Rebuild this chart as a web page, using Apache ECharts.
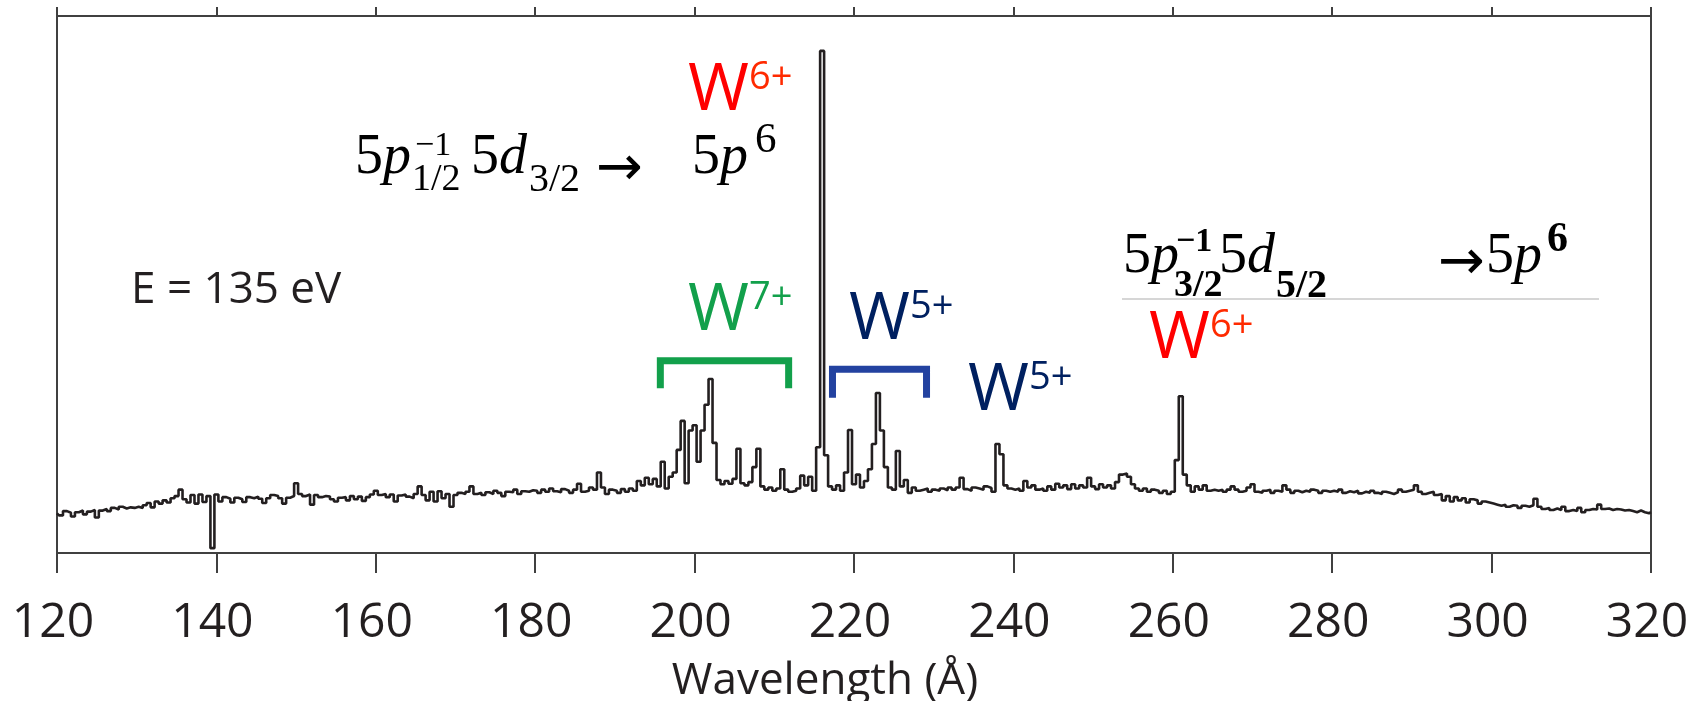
<!DOCTYPE html>
<html>
<head>
<meta charset="utf-8">
<script src="https://cdn.jsdelivr.net/npm/echarts@6/dist/echarts.min.js"></script>
<style>
  html, body { margin: 0; padding: 0; background: #fff; }
  #chart { width: 1688px; height: 701px; }
</style>
</head>
<body>
<div id="chart"></div>
<script>
// spectrum, 0.5 A bins from 120 A (intensity in arbitrary units, 0..100)
const binStart = 120;
const binWidth = 0.5;
const counts120 = [7.4, 7.0, 7.8, 7.5, 6.8, 7.6, 7.9, 7.2, 7.7, 8.0, 6.6, 7.9, 8.2, 7.8, 8.4, 8.1, 8.6, 8.3, 8.5, 8.4];
const counts130 = [8.6, 8.4, 8.9, 9.3, 8.5, 9.6, 9.2, 9.8, 9.4, 10.2, 10.6, 11.8, 10.0, 9.4, 10.8, 9.2, 10.9, 9.5, 10.6, 0.9];
const counts140 = [10.9, 9.6, 10.4, 10.1, 9.4, 10.3, 10.0, 9.5, 10.4, 10.2, 10.5, 10.1, 9.3, 10.2, 10.8, 10.6, 10.2, 9.2, 10.3, 10.6];
const counts150 = [13.0, 11.0, 10.6, 10.9, 9.0, 10.8, 10.4, 10.6, 10.5, 10.0, 9.6, 10.3, 10.4, 9.8, 10.6, 10.0, 10.5, 9.7, 10.4, 10.9];
const counts160 = [11.6, 10.8, 11.0, 10.4, 10.9, 9.6, 10.7, 10.9, 10.5, 10.2, 11.0, 12.4, 10.8, 9.8, 11.4, 9.6, 11.5, 10.2, 11.0, 8.6];
const counts170 = [10.8, 11.2, 11.0, 11.4, 12.4, 11.0, 11.2, 10.8, 11.3, 11.0, 11.6, 11.2, 10.6, 11.4, 11.3, 11.8, 11.0, 11.5, 11.4, 11.7];
const counts180 = [11.6, 11.2, 11.8, 11.4, 12.0, 11.5, 11.3, 11.9, 11.6, 11.2, 11.8, 12.9, 11.4, 11.6, 12.2, 11.8, 15.0, 12.2, 11.0, 11.8];
const counts190 = [11.6, 11.2, 11.9, 11.4, 12.0, 11.6, 13.4, 12.6, 14.0, 12.8, 13.8, 12.4, 17.0, 12.0, 14.2, 15.0, 19.2, 24.6, 13.0, 22.8];
const counts200 = [23.8, 17.0, 22.8, 27.6, 32.4, 20.5, 13.6, 12.8, 13.4, 12.9, 13.8, 19.4, 13.0, 12.6, 13.2, 16.0, 19.4, 12.4, 11.8, 12.2];
const counts210 = [11.6, 12.0, 15.6, 11.8, 11.4, 11.6, 12.0, 14.4, 12.6, 14.2, 11.6, 19.7, 93.5, 18.2, 12.4, 11.8, 12.6, 11.6, 15.0, 22.9];
const counts220 = [12.8, 14.6, 12.2, 13.4, 15.6, 20.3, 29.8, 22.8, 16.0, 12.2, 11.8, 19.0, 12.4, 13.6, 11.2, 12.2, 11.6, 11.8, 12.0, 11.4];
const counts230 = [11.8, 11.6, 12.0, 11.7, 12.2, 11.8, 12.2, 14.0, 11.9, 11.6, 12.2, 12.0, 11.8, 12.4, 12.1, 11.4, 20.3, 18.4, 12.6, 12.0];
const counts240 = [11.8, 12.0, 11.6, 13.4, 12.2, 12.6, 11.8, 12.0, 11.6, 12.4, 11.8, 12.9, 12.2, 12.6, 11.9, 12.8, 12.0, 12.6, 12.2, 14.0];
const counts250 = [12.4, 11.9, 12.8, 12.2, 12.6, 12.0, 13.2, 14.6, 14.8, 14.2, 12.8, 12.0, 11.6, 12.0, 11.4, 11.8, 11.6, 11.2, 11.6, 11.0];
const counts260 = [11.4, 17.3, 29.2, 14.6, 12.6, 11.4, 12.4, 11.8, 12.6, 11.6, 11.8, 11.6, 11.8, 11.4, 11.8, 12.4, 11.8, 11.4, 11.6, 12.2];
const counts270 = [12.8, 11.4, 11.2, 11.6, 11.8, 11.2, 11.6, 11.4, 12.6, 11.8, 11.2, 11.6, 11.3, 11.6, 11.4, 11.8, 11.6, 11.2, 11.6, 11.4];
const counts280 = [11.6, 11.4, 11.8, 11.2, 11.5, 11.3, 11.6, 11.1, 11.4, 11.2, 11.6, 11.2, 11.0, 11.4, 11.2, 11.0, 11.3, 11.8, 11.4, 11.6];
const counts290 = [11.8, 12.6, 11.4, 11.0, 11.2, 11.4, 10.8, 11.0, 9.8, 10.6, 9.6, 10.4, 9.8, 10.2, 9.4, 10.0, 9.8, 9.2, 9.6, 9.4];
const counts300 = [9.2, 9.0, 8.8, 9.0, 8.6, 8.9, 8.8, 8.4, 8.8, 8.6, 8.9, 10.1, 8.6, 8.2, 8.4, 8.0, 8.3, 8.0, 8.6, 7.8];
const counts310 = [8.0, 7.8, 8.4, 7.6, 8.0, 8.2, 8.1, 9.0, 8.2, 8.3, 8.0, 8.2, 8.1, 7.9, 8.0, 7.8, 7.6, 7.9, 7.6, 7.4, 7.6];

const xTicks = [120, 140, 160, 180, 200, 220, 240, 260, 280, 300, 320];

// brackets over line groups: [from A, to A, top, leg bottom]
const bracketW7 = [195.7, 211.8, 35.8, 30.7];
const bracketW5 = [217.3, 229.1, 34.2, 28.9];

const counts = [].concat(counts120, counts130, counts140, counts150, counts160, counts170,
  counts180, counts190, counts200, counts210, counts220, counts230, counts240, counts250,
  counts260, counts270, counts280, counts290, counts300, counts310);
const spectrum = counts.map(function (v, i) { return [binStart + i * binWidth, v]; });

const INK = '#231f20';
const SANS = '"Open Sans", "Noto Sans", sans-serif';
const SERIF = '"Liberation Serif", "DejaVu Serif", serif';
const ARROW = '"DejaVu Sans", sans-serif';
const AXIS = { color: '#404040', width: 2 };

let chart = echarts.init(document.getElementById('chart'));
chart.setOption({
  animation: false,
  backgroundColor: '#fff',
  grid: { left: 57, right: 37, top: 16, bottom: 148, outerBoundsMode: 'none', containLabel: false },
  xAxis: [
    {
      type: 'value', position: 'bottom', min: xTicks[0], max: xTicks[xTicks.length - 1], interval: 20,
      axisLine: { onZero: false, lineStyle: AXIS },
      axisTick: { length: 20, lineStyle: AXIS },
      axisLabel: { fontSize: 48, fontFamily: SANS, color: INK, margin: 46, padding: [0, 8, 0, 0] },
      splitLine: { show: false },
      name: 'Wavelength (Å)', nameLocation: 'middle', nameGap: 106,
      nameTextStyle: { fontSize: 44, fontFamily: SANS, color: INK, padding: [0, 58, 0, 0] }
    },
    {
      type: 'value', position: 'top', min: xTicks[0], max: xTicks[xTicks.length - 1], interval: 20,
      axisLine: { onZero: false, lineStyle: AXIS },
      axisTick: { length: 9, lineStyle: AXIS },
      axisLabel: { show: false },
      splitLine: { show: false }
    }
  ],
  yAxis: [
    {
      type: 'value', position: 'left', min: 0, max: 100,
      axisLine: { show: true, onZero: false, lineStyle: AXIS },
      axisTick: { show: false }, axisLabel: { show: false }, splitLine: { show: false }
    },
    {
      type: 'value', position: 'right', min: 0, max: 100,
      axisLine: { show: true, onZero: false, lineStyle: AXIS },
      axisTick: { show: false }, axisLabel: { show: false }, splitLine: { show: false }
    }
  ],
  series: [
    {
      type: 'line', step: 'middle', data: spectrum, showSymbol: false,
      lineStyle: { color: INK, width: 2.6 }, z: 3
    }
  ]
});

function px (x, y) {
  return chart.convertToPixel({ xAxisIndex: 0, yAxisIndex: 0 }, [x, y]);
}

function bracket (b, color) {
  let p1 = px(b[0], b[3]), p2 = px(b[0], b[2]), p3 = px(b[1], b[2]), p4 = px(b[1], b[3]);
  return {
    type: 'polyline', z: 10,
    shape: { points: [p1, p2, p3, p4] },
    style: { stroke: color, lineWidth: 7, fill: null, lineJoin: 'miter', lineCap: 'butt' }
  };
}

function txt (x, y, text, size, color, family, extra) {
  let font = (extra || '') + ' ' + size + 'px ' + family;
  return {
    type: 'text', x: x, y: y, z: 20,
    style: {
      text: text, font: font, fill: color,
      align: 'left', verticalAlign: 'middle', textAlign: 'left', textVerticalAlign: 'middle'
    }
  };
}

// W label with charge superscript
function ion (x, y, charge, color, supColor) {
  return [
    txt(x, y, 'W', 66, color, SANS),
    txt(x + 61, y - 13, charge, 38, supColor || color, SANS)
  ];
}

const RED = '#ff0000';
const RED2 = '#ff2a00';
const GREEN = '#12a04b';
const NAVY = '#002060';
const BLUE = '#2342a0';

let graphics = [
  bracket(bracketW7, GREEN),
  bracket(bracketW5, BLUE)
].concat(
  ion(688, 91, '6+', RED, RED2),
  ion(688, 311, '7+', GREEN),
  ion(849, 320, '5+', NAVY),
  ion(968, 391, '5+', NAVY),
  ion(1149, 339, '6+', RED, RED2),
  [
    txt(131, 290, 'E = 135 eV', 44, INK, SANS),
    // 5p1/2^-1 5d3/2 -> 5p^6
    txt(355, 158, '5', 56, '#000', SERIF), txt(383, 158, 'p', 56, '#000', SERIF, 'italic'),
    txt(415, 146, '−1', 34, '#000', SERIF), txt(412, 180, '1/2', 38, '#000', SERIF),
    txt(471, 158, '5', 56, '#000', SERIF), txt(499, 158, 'd', 56, '#000', SERIF, 'italic'),
    txt(529, 180, '3/2', 40, '#000', SERIF),
    txt(596, 170, '→', 56, '#000', ARROW),
    txt(692, 158, '5', 56, '#000', SERIF), txt(720, 158, 'p', 56, '#000', SERIF, 'italic'),
    txt(755, 141, '6', 43, '#000', SERIF),
    // 5p3/2^-1 5d5/2 -> 5p^6
    txt(1123, 257, '5', 56, '#000', SERIF), txt(1151, 257, 'p', 56, '#000', SERIF, 'italic'),
    txt(1176, 242, '−1', 34, '#000', SERIF, 'bold'), txt(1174, 286, '3/2', 38, '#000', SERIF, 'bold'),
    txt(1219, 257, '5', 56, '#000', SERIF), txt(1247, 257, 'd', 56, '#000', SERIF, 'italic'),
    txt(1276, 287, '5/2', 40, '#000', SERIF, 'bold'),
    txt(1438, 264, '→', 56, '#000', ARROW),
    txt(1486, 257, '5', 56, '#000', SERIF), txt(1514, 257, 'p', 56, '#000', SERIF, 'italic'),
    txt(1547, 240, '6', 42, '#000', SERIF, 'bold'),
    {
      type: 'line', z: 5,
      shape: { x1: 1122, y1: 299, x2: 1599, y2: 299 },
      style: { stroke: '#c8c8c8', lineWidth: 1.5 }
    }
  ]
);

chart.setOption({ graphic: graphics });
</script>
</body>
</html>
